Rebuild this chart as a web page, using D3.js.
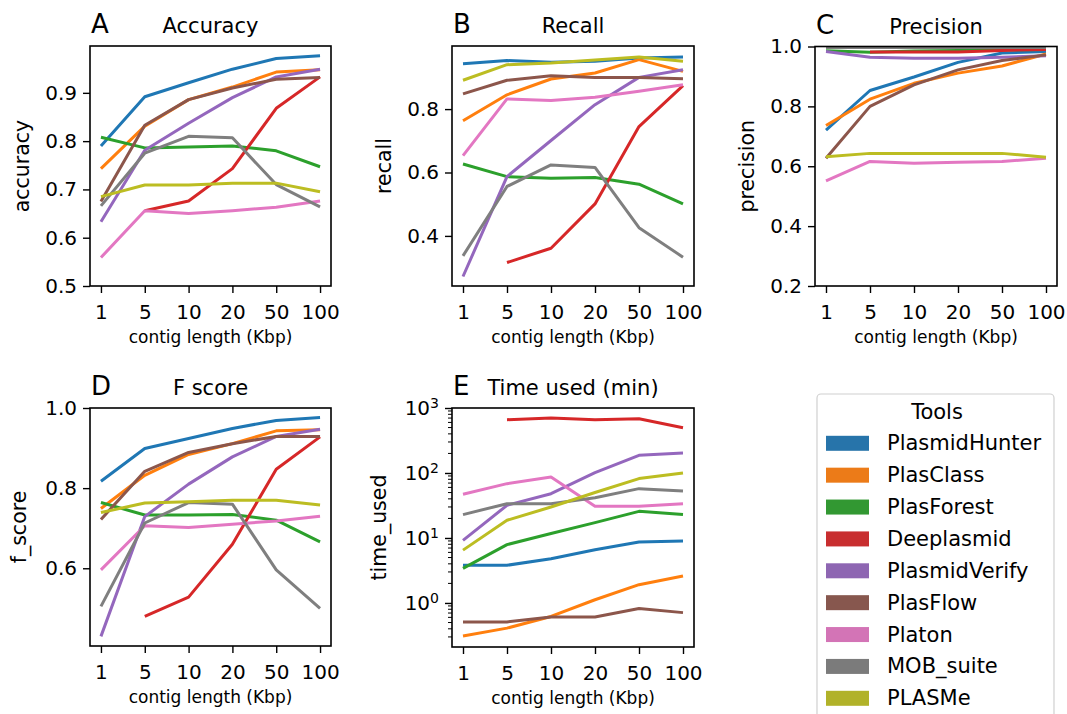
<!DOCTYPE html>
<html>
<head>
<meta charset="utf-8">
<script src="https://cdn.jsdelivr.net/npm/d3@7"></script>
<style>
  body { margin: 0; background: #fff; }
  svg { font-family: "DejaVu Sans", sans-serif; }
</style>
</head>
<body>
<svg id="fig" width="1067" height="714"></svg>
<script>
const lengths = ["1", "5", "10", "20", "50", "100"];
const tools = ["PlasmidHunter", "PlasClass", "PlasForest", "Deeplasmid", "PlasmidVerify",
  "PlasFlow", "Platon", "MOB_suite", "PLASMe"];
const colors = ["#1f77b4", "#ff7f0e", "#2ca02c", "#d62728", "#9467bd",
  "#8c564b", "#e377c2", "#7f7f7f", "#bcbd22"];

// one row per tool, one value per contig length (null = not run)
const accuracy = [
  [0.790, 0.892, 0.921, 0.949, 0.971, 0.977],
  [0.743, 0.831, 0.886, 0.912, 0.943, 0.948],
  [0.808, 0.786, 0.788, 0.790, 0.780, 0.747],
  [null, 0.656, 0.676, 0.743, 0.868, 0.933],
  [0.633, 0.781, 0.837, 0.890, 0.933, 0.949],
  [0.675, 0.833, 0.886, 0.910, 0.928, 0.932],
  [0.559, 0.656, 0.650, 0.656, 0.663, 0.676],
  [0.666, 0.775, 0.810, 0.807, 0.710, 0.664],
  [0.685, 0.709, 0.709, 0.713, 0.713, 0.695]
];
const recall = [
  [0.943, 0.953, 0.948, 0.951, 0.961, 0.964],
  [0.763, 0.845, 0.895, 0.914, 0.956, 0.919],
  [0.627, 0.587, 0.582, 0.584, 0.563, 0.501],
  [null, 0.316, 0.361, 0.501, 0.745, 0.874],
  [0.272, 0.587, 0.701, 0.814, 0.900, 0.924],
  [0.848, 0.891, 0.905, 0.900, 0.900, 0.896],
  [0.653, 0.832, 0.827, 0.837, 0.856, 0.877],
  [0.337, 0.556, 0.624, 0.616, 0.426, 0.333],
  [0.891, 0.940, 0.945, 0.955, 0.964, 0.951]
];
const precision = [
  [0.721, 0.853, 0.898, 0.947, 0.978, 0.983],
  [0.736, 0.824, 0.877, 0.911, 0.935, 0.975],
  [0.986, 0.981, 0.985, 0.987, 0.989, 0.990],
  [null, 0.982, 0.982, 0.982, 0.987, 0.990],
  [0.983, 0.964, 0.961, 0.961, 0.964, 0.969],
  [0.627, 0.800, 0.872, 0.922, 0.953, 0.972],
  [0.551, 0.616, 0.610, 0.613, 0.616, 0.627],
  [0.997, 0.997, 0.997, 0.997, 0.997, 0.997],
  [0.632, 0.643, 0.643, 0.643, 0.643, 0.630]
];
const fScore = [
  [0.817, 0.899, 0.924, 0.949, 0.969, 0.976],
  [0.749, 0.832, 0.884, 0.911, 0.943, 0.946],
  [0.764, 0.733, 0.733, 0.734, 0.720, 0.666],
  [null, 0.480, 0.528, 0.660, 0.847, 0.928],
  [0.430, 0.729, 0.810, 0.878, 0.929, 0.947],
  [0.722, 0.842, 0.889, 0.911, 0.929, 0.929],
  [0.596, 0.706, 0.702, 0.710, 0.718, 0.730],
  [0.505, 0.713, 0.764, 0.760, 0.596, 0.500],
  [0.739, 0.763, 0.766, 0.770, 0.770, 0.758]
];
const timeUsed = [
  [3.8, 3.8, 4.8, 6.6, 8.7, 9.0],
  [0.31, 0.41, 0.62, 1.12, 1.91, 2.6],
  [3.4, 7.9, 11.7, 17.2, 25.7, 22.9],
  [null, 661, 702, 661, 685, 498],
  [9.2, 31.8, 48, 101, 187, 203],
  [0.51, 0.51, 0.61, 0.61, 0.82, 0.71],
  [47, 68.5, 87, 30.7, 30.7, 33.7],
  [22.9, 33.7, 33.7, 41.7, 57.4, 52.9],
  [6.5, 18.7, 30, 50, 82, 100]
];

const panels = [
  { letter: "A", title: "Accuracy", ylabel: "accuracy", data: accuracy,
    box: [90, 331, 46, 286], domain: [0.5, 0.997], ticks: [0.5, 0.6, 0.7, 0.8, 0.9], ylx: 22 },
  { letter: "B", title: "Recall", ylabel: "recall", data: recall,
    box: [452, 694, 46, 286], domain: [0.242, 0.999], ticks: [0.4, 0.6, 0.8], ylx: 384 },
  { letter: "C", title: "Precision", ylabel: "precision", data: precision,
    box: [815, 1057, 46.5, 286], domain: [0.2, 1.0], ticks: [0.2, 0.4, 0.6, 0.8, 1.0], ylx: 747 },
  { letter: "D", title: "F score", ylabel: "f_score", data: fScore,
    box: [90, 331, 408, 646], domain: [0.406, 1.0], ticks: [0.6, 0.8, 1.0], ylx: 19 },
  { letter: "E", title: "Time used (min)", ylabel: "time_used", data: timeUsed,
    box: [452, 694, 408, 647], domain: [0.21, 1000], log: true, ylx: 379 }
];

const svg = d3.select("#fig");

panels.forEach(p => {
  const [x0, x1, y0, y1] = p.box;
  const x = d3.scalePoint().domain(lengths).range([x0, x1]).padding(0.25);
  const y = (p.log ? d3.scaleLog() : d3.scaleLinear()).domain(p.domain).range([y1, y0]);
  const g = svg.append("g");

  const line = d3.line()
    .defined(d => d != null)
    .x((d, i) => x(lengths[i]))
    .y(d => y(d));

  p.data.forEach((row, k) => {
    g.append("path")
      .attr("d", line(row))
      .attr("fill", "none")
      .attr("stroke", colors[k])
      .attr("stroke-width", 3)
      .attr("stroke-linejoin", "round");
  });

  // frame
  g.append("rect")
    .attr("x", x0).attr("y", y0)
    .attr("width", x1 - x0).attr("height", y1 - y0)
    .attr("fill", "none").attr("stroke", "#000").attr("stroke-width", 1.6);

  const xAxis = g.append("g")
    .attr("transform", `translate(0,${y1})`)
    .call(d3.axisBottom(x).tickSize(7).tickPadding(12));
  xAxis.select(".domain").remove();

  let yAxis;
  if (p.log) {
    yAxis = g.append("g")
      .attr("transform", `translate(${x0},0)`)
      .call(d3.axisLeft(y).tickValues([1, 10, 100, 1000]).tickSize(7).tickPadding(6).tickFormat(""));
    yAxis.selectAll(".tick text").each(function(d) {
      const t = d3.select(this);
      t.append("tspan").text("10");
      t.append("tspan").attr("dy", "-0.5em").attr("font-size", 14).text(Math.round(Math.log10(d)));
    });
    const minor = [];
    [0.1, 1, 10, 100].forEach(dec => {
      for (let m = 2; m <= 9; m++) {
        const v = dec * m;
        if (v >= p.domain[0] && v <= p.domain[1]) minor.push(v);
      }
    });
    g.append("g").selectAll("line").data(minor).join("line")
      .attr("x1", x0 - 4).attr("x2", x0)
      .attr("y1", d => y(d)).attr("y2", d => y(d))
      .attr("stroke", "#000").attr("stroke-width", 1);
  } else {
    yAxis = g.append("g")
      .attr("transform", `translate(${x0},0)`)
      .call(d3.axisLeft(y).tickValues(p.ticks).tickFormat(d3.format(".1f")).tickSize(7).tickPadding(6));
  }
  yAxis.select(".domain").remove();

  g.selectAll(".tick line").attr("stroke-width", 1.4);
  g.selectAll(".tick text").attr("font-size", 20).attr("fill", "#000")
    .attr("font-family", "DejaVu Sans");

  // labels
  g.append("text")
    .attr("x", (x0 + x1) / 2).attr("y", y1 + 57)
    .attr("text-anchor", "middle").attr("font-size", 17)
    .text("contig length (Kbp)");
  g.append("text")
    .attr("transform", `translate(${p.ylx},${(y0 + y1) / 2}) rotate(-90)`)
    .attr("text-anchor", "middle").attr("dominant-baseline", "central")
    .attr("font-size", 20.5)
    .text(p.ylabel);
  g.append("text")
    .attr("x", (x0 + x1) / 2).attr("y", y0 - 13)
    .attr("text-anchor", "middle").attr("font-size", 21)
    .text(p.title);
  g.append("text")
    .attr("x", x0 + 1).attr("y", y0 - 13)
    .attr("font-size", 26)
    .text(p.letter);
});

// legend
const lg = svg.append("g");
lg.append("rect")
  .attr("x", 817).attr("y", 394).attr("width", 237).attr("height", 340)
  .attr("rx", 4).attr("fill", "#fff").attr("stroke", "#d0d0d0").attr("stroke-width", 1.2);
lg.append("text")
  .attr("x", 937).attr("y", 419).attr("text-anchor", "middle").attr("font-size", 21)
  .text("Tools");
const ly = d3.scalePoint().domain(tools).range([443.3, 698.3]);
lg.selectAll("rect.sw").data(tools).join("rect")
  .attr("class", "sw")
  .attr("x", 826).attr("y", d => ly(d) - 7.5)
  .attr("width", 43).attr("height", 15)
  .attr("fill", (d, i) => d3.interpolateRgb(colors[i], "#606060")(0.12));
lg.selectAll("text.lab").data(tools).join("text")
  .attr("class", "lab")
  .attr("x", 887).attr("y", d => ly(d))
  .attr("dominant-baseline", "central").attr("font-size", 21)
  .text(d => d);
</script>
</body>
</html>
